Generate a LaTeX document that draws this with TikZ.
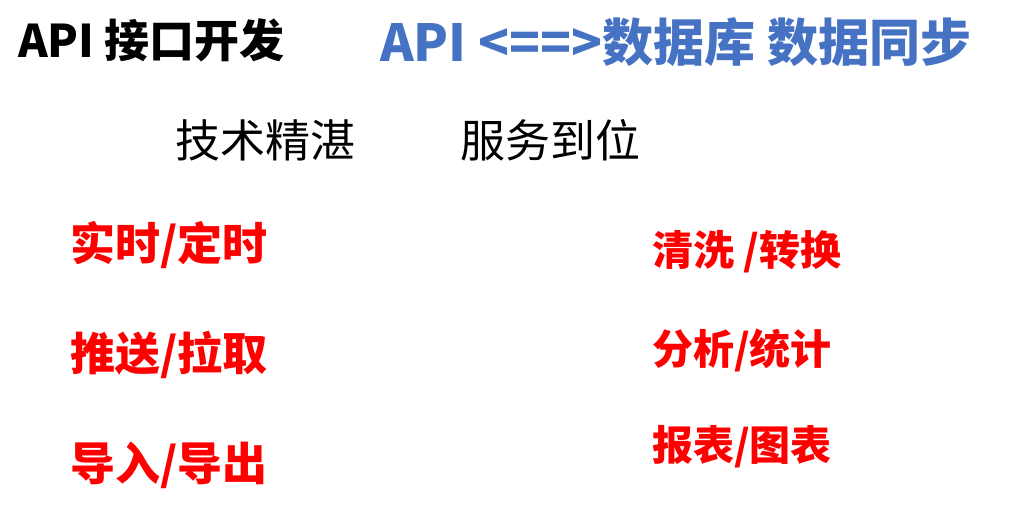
\documentclass[tikz,border=0pt]{standalone}
\usepackage{fontspec}
\setmainfont{Noto Sans CJK SC}
\definecolor{titleblue}{RGB}{70,114,196}
\definecolor{itemred}{RGB}{255,0,0}
\begin{document}
\begin{tikzpicture}[x=1pt, y=-1pt,
  head/.style={anchor=west, inner sep=0pt, font=\fontsize{45}{47}\selectfont\bfseries},
  motto/.style={anchor=west, inner sep=0pt, font=\fontsize{45}{47}\selectfont},
  item/.style={anchor=west, inner sep=0pt, text=itemred, font=\fontsize{45}{47}\selectfont\bfseries}]
  \useasboundingbox (0,0) rectangle (1011,516);
  % titles
  \node[head] (api) at (18,40) {API 接口开发};
  \node[head, text=titleblue, font=\fontsize{51}{53}\selectfont\bfseries] (sync) at (380,42) {API <==>数据库 数据同步};
  % motto
  \node[motto] (tech) at (175,140) {技术精湛};
  \node[motto] (serv) at (460,140) {服务到位};
  % left column
  \node[item] (rt) at (70,245) {实时/定时};
  \node[item] (push) at (70,355) {推送/拉取};
  \node[item] (io) at (70,465) {导入/导出};
  % right column
  \node[item, font=\fontsize{41}{43}\selectfont\bfseries] (clean) at (652,252) {清洗 /转换};
  \node[item, font=\fontsize{41}{43}\selectfont\bfseries] (stat) at (652,350) {分析/统计};
  \node[item, font=\fontsize{41}{43}\selectfont\bfseries] (rep) at (652,447) {报表/图表};
\end{tikzpicture}
\end{document}
